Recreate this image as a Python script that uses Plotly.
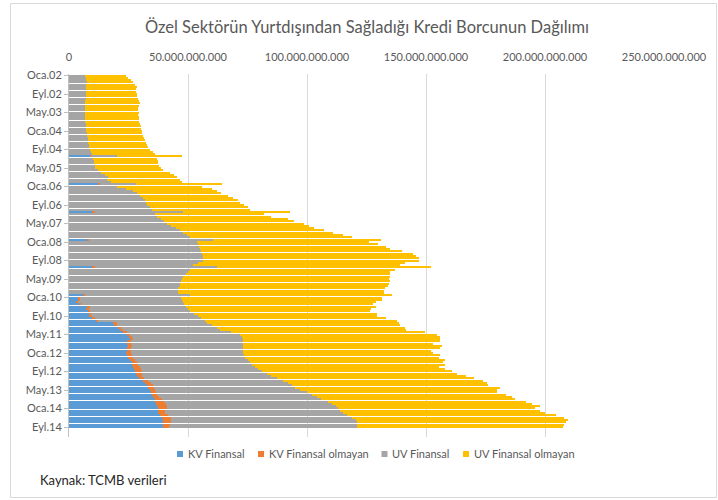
import plotly.graph_objects as go

# ---------------- data (values in billions) ----------------
month_abbr = ["Oca", "Şub", "Mar", "Nis", "May", "Haz", "Tem", "Ağu", "Eyl", "Eki", "Kas", "Ara"]
years = list(range(2002, 2015))
categories = [f"{m}.{str(y)[2:]}" for y in years for m in month_abbr][:153]  # Oca.02 ... Eyl.14

kv_finansal = (
    [0]*12 + [0]*12 + [0]*11 + [9.0] + [0]*11 + [12.2] + [0]*11 + [9.5] + [0]*11 + [7.5]
    + [0]*11 + [9.6] + [0]*11 + [6.0]
    + [3.9, 3.9, 3.3, 4.6, 7.7, 7.5, 8.0, 8.5, 8.8, 10.0, 11.6, 18.5]
    + [19.3, 20.5, 21.4, 22.8, 24.2, 25.0, 25.6, 24.2, 24.5, 24.9, 24.5, 24.2]
    + [24.0, 24.5, 24.9, 25.5, 26.3, 26.6, 27.0, 27.3, 27.7, 28.0, 28.4, 29.5]
    + [31.0, 32.0, 32.6, 33.3, 34.0, 34.3, 34.7, 35.3, 36.0, 36.3, 36.6, 36.8]
    + [37.5, 37.3, 37.5, 38.2, 39.0, 39.3, 39.6, 39.6, 39.6]
)
kv_finansal_olmayan = (
    [0]*12 + [0]*12 + [0]*11 + [0.4] + [0]*11 + [1.0] + [0]*11 + [1.5] + [0]*11 + [0.9]
    + [0]*11 + [1.4] + [0]*11 + [0.7]
    + [0.7, 0.6, 0.5, 0.6, 1.1, 0.8, 0.8, 0.7, 0.7, 0.8, 0.7, 1.5]
    + [0.7, 1.2, 1.3, 1.4, 1.4, 1.4, 1.4, 1.8, 1.5, 1.4, 1.5, 1.7]
    + [2.0, 2.0, 2.1, 2.1, 2.1, 2.5, 2.8, 2.8, 2.8, 2.5, 2.1, 2.2]
    + [2.1, 2.3, 2.8, 2.5, 2.0, 2.1, 2.1, 2.5, 3.0, 3.5, 4.0, 4.2]
    + [3.5, 3.0, 3.0, 3.5, 4.0, 3.7, 3.4, 3.0, 2.4]
)
uv_finansal = (
    [6.7, 7.0, 7.2, 7.4, 7.0, 7.1, 7.3, 7.0, 7.1, 7.2, 7.0, 6.9]
    + [6.8, 6.7, 6.6, 6.8, 6.7, 6.6, 6.8, 6.9, 6.8, 7.0, 7.1, 7.2]
    + [7.3, 7.4, 7.6, 7.8, 7.9, 8.1, 8.3, 8.5, 8.8, 9.2, 9.6, 10.8]
    + [10.0, 10.3, 10.6, 10.8, 11.0, 12.0, 13.5, 15.0, 16.5, 16.0, 17.5, 15.0]
    + [20.0, 24.0, 27.0, 28.5, 30.0, 31.0, 32.0, 32.5, 32.7, 34.0, 35.0, 37.0]
    + [36.0, 37.0, 38.5, 40.0, 41.0, 43.0, 45.0, 46.6, 48.0, 49.5, 51.0, 52.1]
    + [53.6, 54.0, 54.5, 55.0, 55.5, 56.0, 56.2, 56.4, 56.4, 54.0, 52.0, 51.0]
    + [51.0, 50.0, 49.0, 48.0, 47.4, 47.0, 46.5, 46.5, 46.0, 46.0, 46.0, 44.3]
    + [42.4, 42.9, 44.2, 43.3, 40.2, 41.7, 42.2, 43.3, 44.8, 44.7, 44.7, 38.0]
    + [40.0, 40.3, 40.8, 43.8, 46.4, 46.1, 46.0, 47.0, 47.0, 46.7, 47.0, 47.1]
    + [47.0, 47.0, 47.0, 47.4, 47.6, 47.9, 48.2, 49.4, 50.5, 52.5, 54.5, 55.8]
    + [56.9, 57.7, 58.1, 59.2, 61.0, 63.6, 65.2, 66.2, 67.0, 69.2, 69.9, 71.0]
    + [72.0, 73.7, 74.5, 75.3, 76.0, 77.5, 78.0, 78.4, 79.0]
)
uv_finansal_olmayan = (
    [17.1, 17.9, 18.8, 19.6, 20.6, 21.3, 20.9, 21.3, 21.5, 21.3, 21.9, 22.4]
    + [23.0, 22.8, 22.2, 22.3, 22.7, 22.3, 22.7, 22.5, 22.8, 22.8, 23.0, 23.0]
    + [23.2, 23.4, 23.6, 23.7, 24.0, 24.3, 24.6, 24.8, 25.2, 26.2, 26.5, 27.1]
    + [26.8, 26.9, 26.9, 27.0, 27.6, 27.6, 28.9, 29.3, 28.7, 30.6, 30.1, 36.1]
    + [36.0, 36.0, 35.0, 35.5, 37.0, 38.0, 39.0, 39.5, 41.0, 41.0, 41.0, 45.0]
    + [46.0, 48.0, 53.5, 54.6, 57.7, 58.0, 58.0, 60.4, 63.0, 65.5, 68.0, 70.5]
    + [72.4, 76.0, 78.5, 80.0, 84.5, 88.5, 89.8, 90.6, 90.6, 87.0, 87.0, 90.0]
    + [86.0, 85.0, 86.0, 87.0, 87.1, 88.0, 88.0, 87.5, 86.8, 86.4, 86.4, 84.7]
    + [84.5, 84.1, 81.0, 79.2, 80.0, 77.0, 75.5, 76.9, 75.1, 77.5, 81.0, 80.7]
    + [79.0, 79.0, 78.0, 81.6, 82.6, 83.5, 83.0, 83.0, 80.0, 83.7, 83.0, 79.0]
    + [80.0, 82.5, 81.5, 83.0, 81.0, 81.0, 77.5, 78.5, 80.0, 80.0, 81.8, 82.5]
    + [84.0, 83.6, 82.5, 86.0, 83.0, 79.8, 81.6, 82.0, 81.4, 83.0, 84.0, 86.0]
    + [83.0, 84.0, 85.0, 87.6, 89.0, 89.2, 87.8, 87.0, 86.6]
)

shown_cat_ticks = ["Oca.02", "Eyl.02", "May.03", "Oca.04", "Eyl.04", "May.05", "Oca.06",
                   "Eyl.06", "May.07", "Oca.08", "Eyl.08", "May.09", "Oca.10", "Eyl.10",
                   "May.11", "Oca.12", "Eyl.12", "May.13", "Oca.14", "Eyl.14"]
value_tick_vals = [0, 50, 100, 150, 200, 250]
value_tick_text = ["0", "50.000.000.000", "100.000.000.000", "150.000.000.000",
                   "200.000.000.000", "250.000.000.000"]

series_names = ["KV Finansal", "KV Finansal olmayan", "UV Finansal", "UV Finansal olmayan"]
series_colors = ["#5B9BD5", "#ED7D31", "#A5A5A5", "#FFC000"]
series_values = [kv_finansal, kv_finansal_olmayan, uv_finansal, uv_finansal_olmayan]

# ---------------- figure ----------------
W, H = 718, 500
L, R, T, B = 69, 54, 74, 63

fig = go.Figure()
for name, col, vals in zip(series_names, series_colors, series_values):
    fig.add_trace(go.Bar(
        y=categories, x=vals, name=name, orientation="h",
        marker=dict(color=col, line=dict(width=0)),
        hoverinfo="x+y+name", showlegend=False,
    ))

def px_x(p):
    return (p - L) / (W - L - R)

def px_y(p):
    return (H - B - p) / (H - T - B)

# compact legend drawn as squares + text (Excel style)
legend_square_x = [177, 258, 381.5, 463]
legend_text_x = [186, 266.5, 390, 471.5]
legend_y = 454
shapes = [dict(type="rect", xref="paper", yref="paper",
               x0=px_x(10.5), x1=px_x(716.5), y0=px_y(497.5), y1=px_y(3.5),
               line=dict(color="#D9D9D9", width=1), fillcolor="rgba(0,0,0,0)", layer="below")]
annotations = [dict(text="Kaynak: TCMB verileri", xref="paper", yref="paper",
                    x=px_x(38), y=px_y(480), xanchor="left", yanchor="middle",
                    showarrow=False, font=dict(size=13, color="#262626"))]
for name, col, sx, tx in zip(series_names, series_colors, legend_square_x, legend_text_x):
    shapes.append(dict(type="rect", xref="paper", yref="paper",
                       x0=px_x(sx), x1=px_x(sx + 6), y0=px_y(legend_y + 3), y1=px_y(legend_y - 3),
                       line=dict(width=0), fillcolor=col))
    annotations.append(dict(text=name, xref="paper", yref="paper", x=px_x(tx), y=px_y(legend_y),
                            xanchor="left", yanchor="middle", showarrow=False,
                            font=dict(size=11, color="#595959")))

fig.update_layout(
    width=W, height=H,
    margin=dict(l=L, r=R, t=T, b=B),
    barmode="stack", bargap=0.5,
    paper_bgcolor="white", plot_bgcolor="white",
    font=dict(family="Lato, Calibri, sans-serif", color="#595959", size=11),
    title=dict(text="Özel Sektörün Yurtdışından Sağladığı Kredi Borcunun Dağılımı",
               x=367 / W, xanchor="center", y=1 - 27 / H, yanchor="middle",
               font=dict(size=16.5, color="#595959", family="Lato, sans-serif")),
    xaxis=dict(side="top", range=[0, 250], tickvals=value_tick_vals, ticktext=value_tick_text,
               showgrid=True, gridcolor="#D9D9D9", gridwidth=1, zeroline=False,
               showline=False, ticks="outside", ticklen=8, tickcolor="rgba(0,0,0,0)",
               tickfont=dict(size=11, color="#595959"), automargin=False),
    yaxis=dict(type="category", categoryorder="array", categoryarray=categories,
               autorange=False, range=[156.3, -0.7], tickvals=shown_cat_ticks,
               showgrid=False, showline=True, linecolor="#BFBFBF", linewidth=1,
               ticks="outside", ticklen=4, tickcolor="#BFBFBF",
               tickfont=dict(size=11, color="#595959"), automargin=False),
    showlegend=False,
    annotations=annotations,
    shapes=shapes,
)

fig.write_html("out.html", config={"displayModeBar": False},
               post_script="document.body.style.margin='0px';document.body.style.overflow='hidden';")
